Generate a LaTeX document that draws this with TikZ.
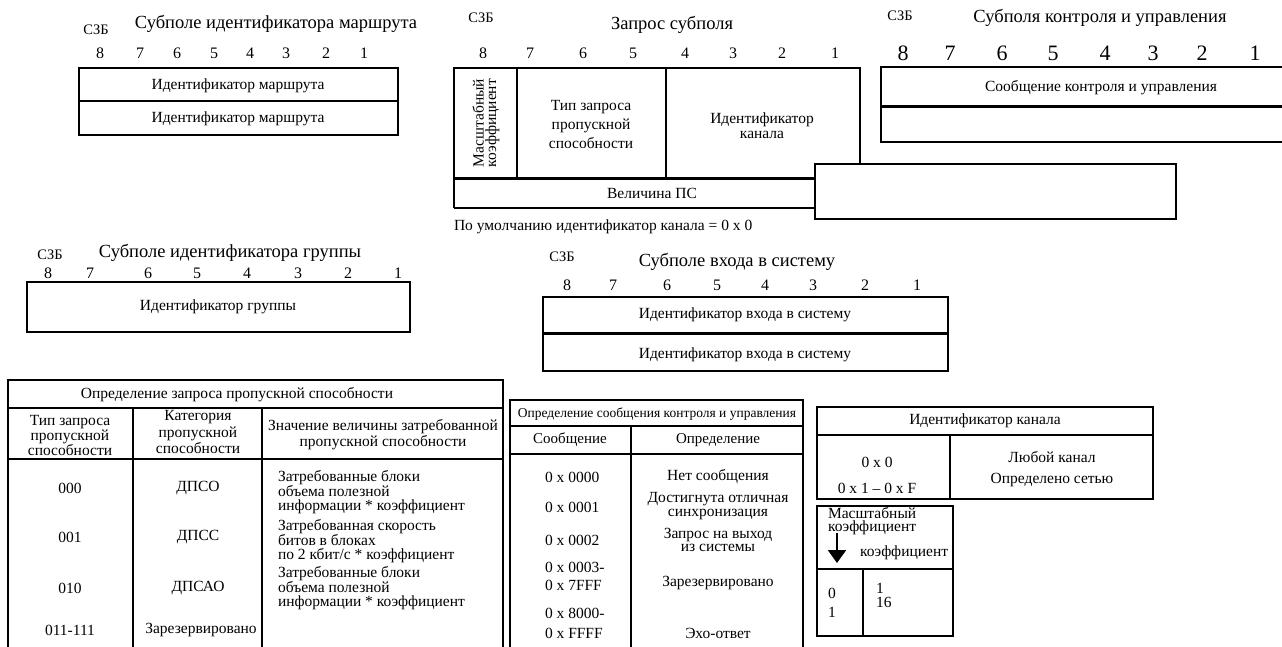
\documentclass[tikz,border=0pt]{standalone}
\usepackage{fontspec}
\setmainfont{Liberation Serif}
\usetikzlibrary{arrows.meta}
\begin{document}
\begin{tikzpicture}[x=1pt,y=-1pt,
  every node/.style={inner sep=0pt,outer sep=0pt},
  lbl/.style={font=\fontsize{15.5}{15}\selectfont,align=center},
  body/.style={font=\fontsize{15.5}{13.5}\selectfont,align=left},
  small/.style={font=\fontsize{13.5}{15}\selectfont},
  ttl/.style={font=\fontsize{18.5}{20}\selectfont},
  szb/.style={font=\fontsize{14.5}{16}\selectfont},
  num/.style={font=\fontsize{16}{18}\selectfont},
  bignum/.style={font=\fontsize{22}{24}\selectfont},
  frame/.style={line width=1.8pt},
  heavy/.style={line width=3pt},
  rule/.style={line width=1.6pt}]
\useasboundingbox (0,0) rectangle (1282,646);

% ---------- route identifier subfield ----------
\node[szb] (rszb) at (96,30) {СЗБ};
\node[ttl] (rttl) at (276,24) {Субполе идентификатора маршрута};
\foreach \x/\d in {100/8,140/7,177/6,214/5,250/4,286/3,326/2,364/1}
  \node[num] (rb\d) at (\x,53) {\d};
\draw[frame] (79,68) rectangle (398,135);
\draw[frame] (79,101) -- (398,101);
\node[lbl] (rid1) at (238,86) {Идентификатор маршрута};
\node[lbl] (rid2) at (238,119) {Идентификатор маршрута};

% ---------- request subfield ----------
\node[szb] (qszb) at (481,18) {СЗБ};
\node[ttl] (qttl) at (672,25) {Запрос субполя};
\foreach \x/\d in {483/8,530/7,583/6,633/5,685/4,733/3,782/2,835/1}
  \node[num] (qb\d) at (\x,53) {\d};
\draw[frame] (454,178) -- (454,68) -- (860,68) -- (860,170);
\draw[frame] (454,208) -- (454,176);
\draw[frame] (517,68) -- (517,178);
\draw[frame] (666,68) -- (666,178);
\draw[heavy] (454,178) -- (820,178);
\draw[frame] (454,208) -- (820,208);
\node[lbl,rotate=90,font=\fontsize{15.5}{12.5}\selectfont] (qscale) at (486,123) {Масштабный\\коэффициент};
\node[lbl,font=\fontsize{15.5}{19}\selectfont] (qtype) at (591,124) {Тип запроса\\пропускной\\способности};
\node[lbl] (qchan) at (762,126) {Идентификатор\\канала};
\node[lbl] (qbw) at (652,193) {Величина ПС};
\draw[frame,fill=white] (815,164) rectangle (1176,219);
\node[lbl,anchor=west] (qnote) at (454,227) {По умолчанию идентификатор канала = 0 x 0};

% ---------- control and management subfields ----------
\node[szb] (cszb) at (900,16) {СЗБ};
\node[ttl] (cttl) at (1100,18) {Субполя контроля и управления};
\foreach \x/\d in {903/8,950/7,1002/6,1053/5,1105/4,1153/3,1202/2,1255/1}
  \node[bignum] (cb\d) at (\x,53) {\d};
\draw[frame] (1284,67) -- (881,67) -- (881,142) -- (1284,142);
\draw[heavy] (881,106) -- (1284,106);
\node[lbl] (cmsg) at (1101,88) {Сообщение контроля и управления};

% ---------- group identifier subfield ----------
\node[szb] (gszb) at (50,255) {СЗБ};
\node[ttl] (gttl) at (230,253) {Субполе идентификатора группы};
\foreach \x/\d in {48/8,90/7,148/6,197/5,247/4,298/3,348/2,398/1}
  \node[num] (gb\d) at (\x,273) {\d};
\draw[frame] (27,282) rectangle (410,332);
\node[lbl] (gid) at (218,307) {Идентификатор группы};

% ---------- login subfield ----------
\node[szb] (lszb) at (562,257) {СЗБ};
\node[ttl] (lttl) at (737,262) {Субполе входа в систему};
\foreach \x/\d in {567/8,613/7,667/6,717/5,765/4,813/3,865/2,917/1}
  \node[num] (lb\d) at (\x,285) {\d};
\draw[frame] (543,297) rectangle (948,371);
\draw[heavy] (543,333) -- (948,333);
\node[lbl] (lid1) at (745,315) {Идентификатор входа в систему};
\node[lbl] (lid2) at (745,355) {Идентификатор входа в систему};

% ---------- bandwidth request definition table ----------
\draw[frame] (8,648) -- (8,380) -- (503,380) -- (503,648);
\draw[rule] (8,408) -- (503,408);
\draw[rule] (8,459) -- (503,459);
\draw[rule] (133,408) -- (133,648);
\draw[rule] (262,408) -- (262,648);
\node[lbl] (bttl) at (237,395) {Определение запроса пропускной способности};
\node[lbl] (bh1) at (70,435) {Тип запроса\\пропускной\\способности};
\node[lbl,font=\fontsize{15.5}{16.5}\selectfont] (bh2) at (198,432) {Категория\\пропускной\\способности};
\node[lbl,font=\fontsize{15.5}{16}\selectfont] (bh3) at (383,435) {Значение величины затребованной\\пропускной способности};
\node[lbl] (bt1) at (70,488) {000};
\node[lbl] (bt2) at (70,537) {001};
\node[lbl] (bt3) at (70,588) {010};
\node[lbl] (bt4) at (70,630) {011-111};
\node[lbl] (bc1) at (198,488) {ДПСО};
\node[lbl] (bc2) at (198,537) {ДПСС};
\node[lbl] (bc3) at (198,588) {ДПСАО};
\node[lbl] (bc4) at (201,630) {Зарезервировано};
\node[body,anchor=west] (bv1) at (278,492) {Затребованные блоки\\объема полезной\\информации * коэффициент};
\node[body,anchor=west] (bv2) at (278,541) {Затребованная скорость\\битов в блоках\\по 2 кбит/с * коэффициент};
\node[body,anchor=west] (bv3) at (278,588) {Затребованные блоки\\объема полезной\\информации * коэффициент};

% ---------- control message definition table ----------
\draw[frame] (510,648) -- (510,400) -- (803,400) -- (803,648);
\draw[rule] (510,426) -- (803,426);
\draw[rule] (510,454) -- (803,454);
\draw[rule] (631,426) -- (631,648);
\node[small] (mttl) at (657,414) {Определение сообщения контроля и управления};
\node[lbl,font=\fontsize{15}{15}\selectfont] (mh1) at (570,440) {Сообщение};
\node[lbl,font=\fontsize{15}{15}\selectfont] (mh2) at (718,440) {Определение};
\node[lbl,anchor=west] (mc1) at (545,477) {0 x 0000};
\node[lbl,anchor=west] (mc2) at (545,507) {0 x 0001};
\node[lbl,anchor=west] (mc3) at (545,540) {0 x 0002};
\node[lbl,anchor=west,align=left,font=\fontsize{15.5}{18}\selectfont] (mc4) at (545,576) {0 x 0003-\\0 x 7FFF};
\node[lbl,anchor=west,align=left,font=\fontsize{15.5}{20}\selectfont] (mc5) at (545,623) {0 x 8000-\\0 x FFFF};
\node[lbl] (md1) at (718,477) {Нет сообщения};
\node[lbl,font=\fontsize{15.5}{13.5}\selectfont] (md2) at (718,506) {Достигнута отличная\\синхронизация};
\node[lbl,font=\fontsize{15.5}{13.5}\selectfont] (md3) at (718,540) {Запрос на выход\\из системы};
\node[lbl] (md4) at (718,583) {Зарезервировано};
\node[lbl] (md5) at (718,633) {Эхо-ответ};

% ---------- channel identifier table ----------
\draw[frame] (817,407) rectangle (1153,499);
\draw[rule] (817,435) -- (1153,435);
\draw[rule] (950,435) -- (950,499);
\node[lbl] (kttl) at (985,421) {Идентификатор канала};
\node[lbl] (kv1) at (877,462) {0 x 0};
\node[lbl] (kv2) at (877,488) {0 x 1 – 0 x F};
\node[lbl] (kd1) at (1052,457) {Любой канал};
\node[lbl] (kd2) at (1052,480) {Определено сетью};

% ---------- scale factor table ----------
\draw[frame] (817,506) rectangle (953,636);
\draw[rule] (817,569) -- (953,569);
\draw[rule] (863,569) -- (863,636);
\node[lbl,anchor=north west,align=left,font=\fontsize{15.5}{13}\selectfont] (sname) at (828,507) {Масштабный\\коэффициент};
\coordinate (sfrom) at (837,533);
\coordinate (sto) at (837,563);
\draw[line width=2.2pt,-{Triangle[width=18pt,length=13pt]}] (sfrom) -- (sto);
\node[lbl,anchor=west] (scoef) at (860,553) {коэффициент};
\node[lbl] (sk0) at (832,593) {0};
\node[lbl] (sk1) at (832,612) {1};
\node[lbl,anchor=west] (sv0) at (876,588) {1};
\node[lbl,anchor=west] (sv1) at (876,602) {16};
\end{tikzpicture}
\end{document}
